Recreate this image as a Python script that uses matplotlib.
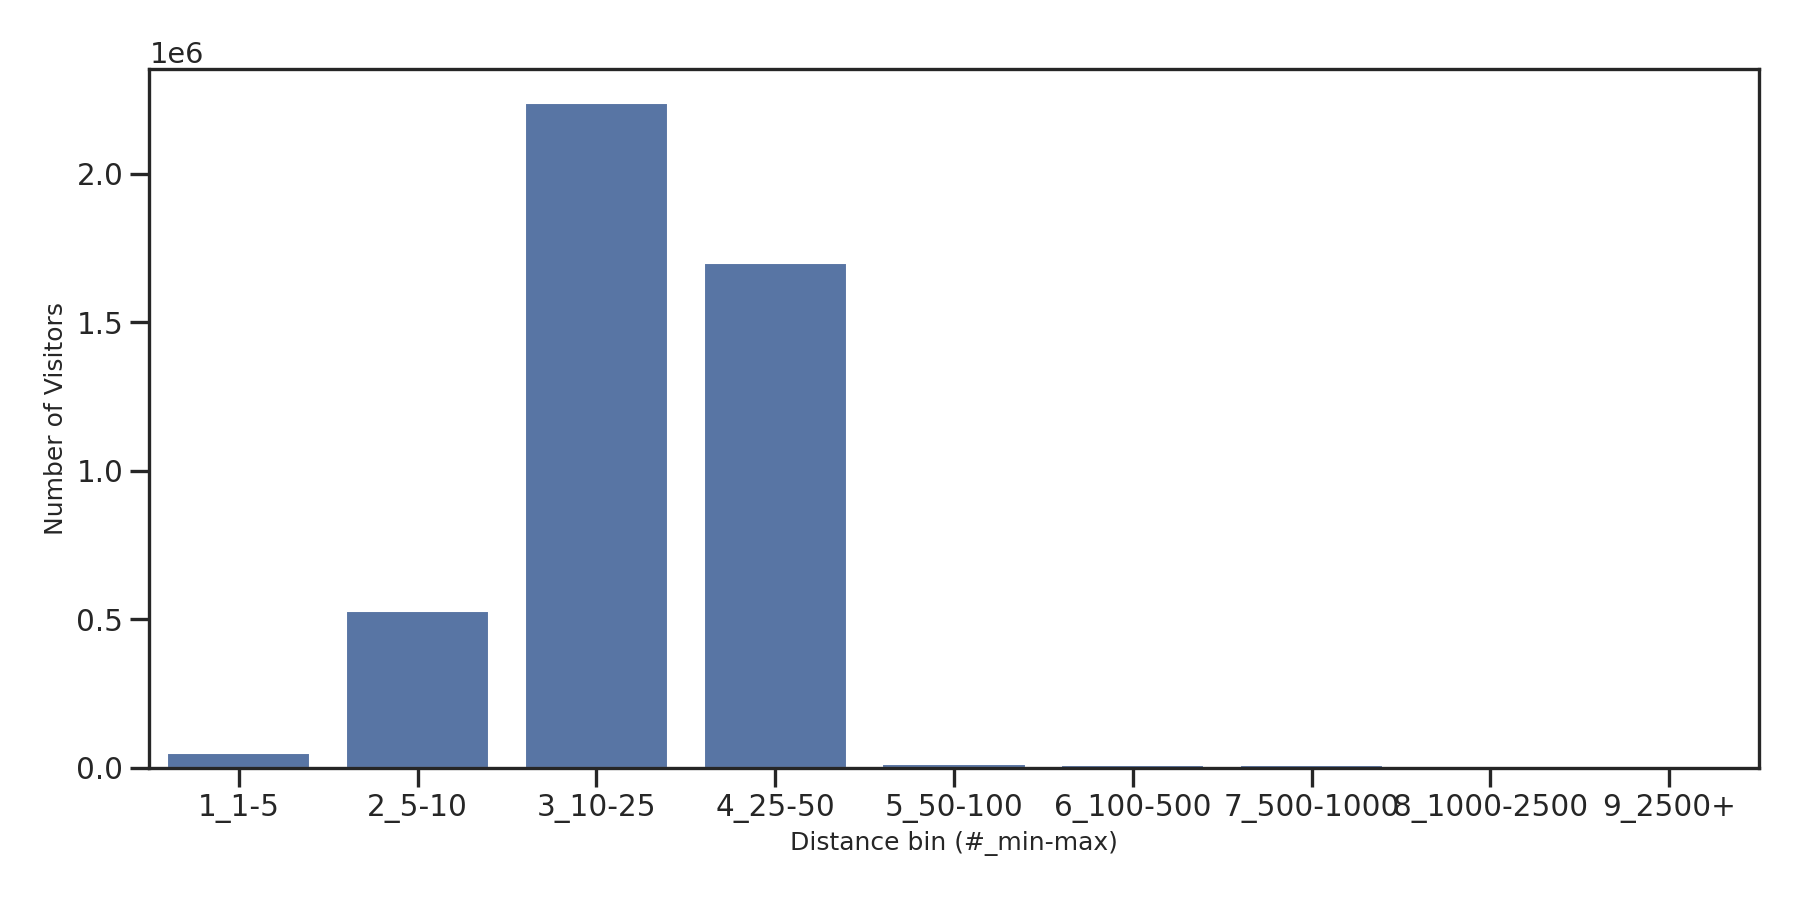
import matplotlib
matplotlib.use("Agg")
import matplotlib.pyplot as plt
import seaborn as sns

# Visitor counts per distance bin
distance_bins = ["1_1-5", "2_5-10", "3_10-25", "4_25-50", "5_50-100",
                 "6_100-500", "7_500-1000", "8_1000-2500", "9_2500+"]
visitors = [48000, 527000, 2240000, 1699000, 13000, 8500, 8500, 600, 300]

sns.set_style("ticks")
plt.rcParams['font.family'] = ['DejaVu Sans']

fig = plt.figure(figsize=(12, 6), dpi=150)
ax = fig.add_axes([0.083, 0.147, 0.894, 0.776])

ax.bar(range(len(distance_bins)), visitors, width=0.8, color="#5875A4")
ax.set_xlim(-0.5, len(distance_bins) - 0.5)
ax.set_xticks(range(len(distance_bins)))
ax.set_xticklabels(distance_bins)

ax.set_xlabel("Distance bin (#_min-max)", fontsize=12, color="#262626")
ax.set_ylabel("Number of Visitors", fontsize=12, color="#262626")
ax.tick_params(axis="both", labelsize=14.2, length=9, width=1.6, colors="#262626")
ax.yaxis.get_offset_text().set_fontsize(13.8)

for spine in ax.spines.values():
    spine.set_linewidth(1.6)
    spine.set_color("#262626")

plt.savefig("out.png", dpi=150)
